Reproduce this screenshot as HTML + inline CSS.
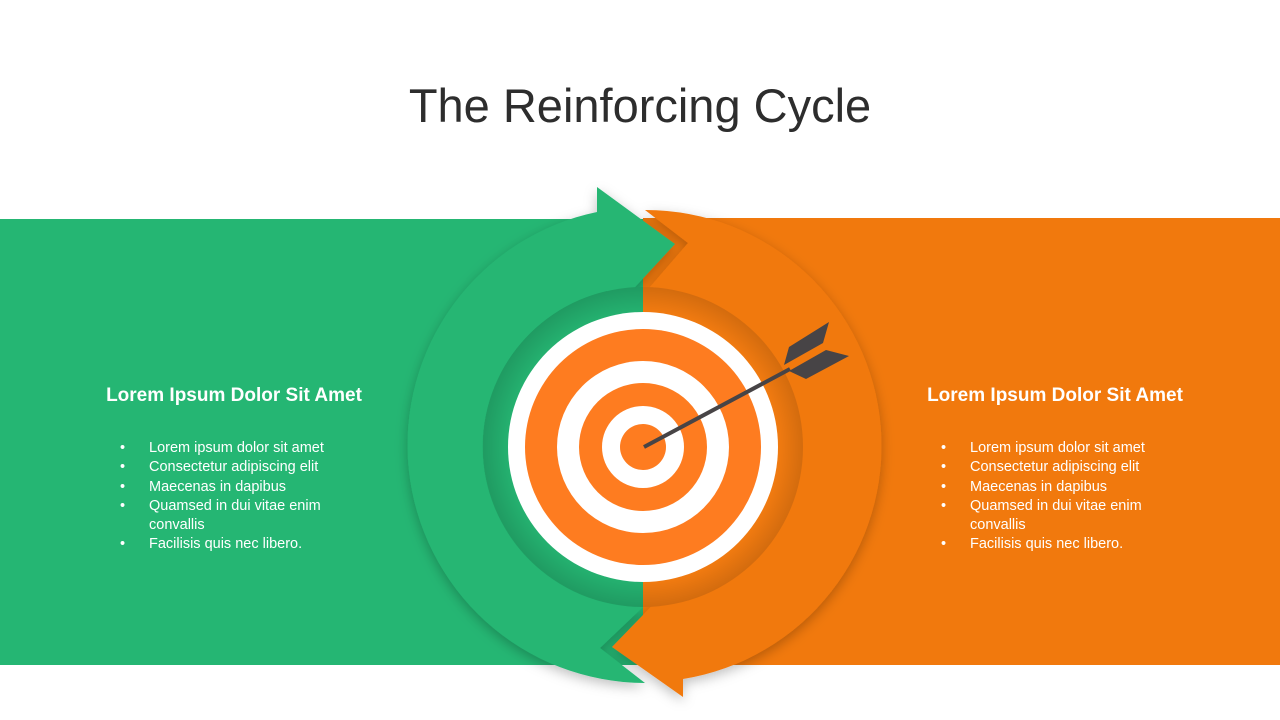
<!DOCTYPE html>
<html><head><meta charset="utf-8"><style>
body{margin:0;width:1280px;height:720px;overflow:hidden;background:#fff;font-family:"Liberation Sans",sans-serif;position:relative}
.t{position:absolute;left:0;width:1280px;top:78px;text-align:center;font-size:47px;color:#2d2d2d}
.h{position:absolute;color:#fff;font-weight:bold;font-size:19px;width:330px;text-align:center}
ul{position:absolute;margin:0;padding:0 0 0 22px;color:#fff;font-size:14.5px;line-height:19.3px;width:210px;list-style:none}
li{position:relative;padding-left:21px}
li:before{content:"•";position:absolute;left:-8px}
</style></head><body>
<svg width="1280" height="720" style="position:absolute;left:0;top:0">
<defs>
<filter id="s" x="-20%" y="-20%" width="140%" height="140%"><feDropShadow dx="0" dy="4" stdDeviation="6" flood-color="#000" flood-opacity="0.25"/></filter>
<radialGradient id="ig" cx="0.5" cy="0.5" r="0.5"><stop offset="0.85" stop-color="#000" stop-opacity="0"/><stop offset="1" stop-color="#000" stop-opacity="0.12"/></radialGradient>
</defs>
<rect x="0" y="219" width="643" height="446" fill="#25b673"/>
<rect x="643" y="218" width="637" height="447" fill="#f1790d"/>
<g filter="url(#s)">
<path d="M645,683 A238,238 0 0 1 597,212 L597,187 L675,244 L612,312 L607,291 A160,160 0 0 0 643,607 L600,648 Z" fill="#25b673"/>
<path d="M645,210 A236,236 0 0 1 683,679 L683,697 L612,647 L672,585 L676,602 A160,160 0 0 0 650,287 L688,243 Z" fill="#f1790d"/>
</g>
<path d="M643,287 A160,160 0 0 0 643,607 Z" fill="#24b06f"/>
<path d="M643,287 A160,160 0 0 1 643,607 Z" fill="#f07a10"/>
<circle cx="643" cy="447" r="160" fill="url(#ig)"/>
<circle cx="643" cy="447" r="135" fill="#fff"/>
<circle cx="643" cy="447" r="118" fill="#fe7c20"/>
<circle cx="643" cy="447" r="86" fill="#fff"/>
<circle cx="643" cy="447" r="64" fill="#fe7c20"/>
<circle cx="643" cy="447" r="41" fill="#fff"/>
<circle cx="643" cy="447" r="23" fill="#fe7c20"/>
<line x1="644" y1="447" x2="790" y2="369" stroke="#474446" stroke-width="4"/>
<path d="M784,365 L789,347 L829,322 L823,343 Z M789,371 L826,350 L849,356 L806,379 Z" fill="#474446"/>
</svg>
<div class="t">The Reinforcing Cycle</div>
<div class="h" style="left:69px;top:385px">Lorem Ipsum Dolor Sit Amet</div>
<div class="h" style="left:890px;top:385px">Lorem Ipsum Dolor Sit Amet</div>
<ul style="left:106px;top:439px"><li>Lorem ipsum dolor sit amet</li><li>Consectetur adipiscing elit</li><li>Maecenas in dapibus</li><li>Quamsed in dui vitae enim convallis</li><li>Facilisis quis nec libero.</li></ul>
<ul style="left:927px;top:439px"><li>Lorem ipsum dolor sit amet</li><li>Consectetur adipiscing elit</li><li>Maecenas in dapibus</li><li>Quamsed in dui vitae enim convallis</li><li>Facilisis quis nec libero.</li></ul>
</body></html>
